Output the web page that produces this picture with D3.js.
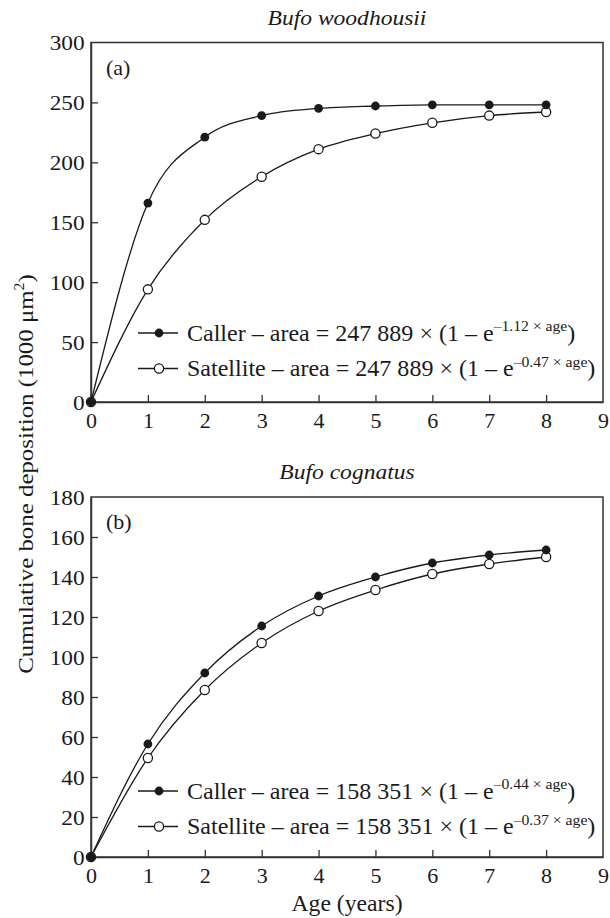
<!DOCTYPE html>
<html><head><meta charset="utf-8">
<script src="https://cdn.jsdelivr.net/npm/d3@7"></script>
<style>
body{margin:0;background:#fff}
text{font-family:"Liberation Serif","Times New Roman",serif;fill:#1a1a1a}
</style>
</head><body><svg id="c" width="610" height="918"></svg>
<script>
const ages=[0,1,2,3,4,5,6,7,8];
const callerA=[0,166,221,239,245,247,248,248,248];
const satelliteA=[0,94,152,188,211,224,233,239,242];
const callerB=[0,56.5,92,115.5,130.5,140,147,151,153.5];
const satelliteB=[0,49.5,83.5,107,123,133.5,141.5,146.5,150];
const xTicks=[0,1,2,3,4,5,6,7,8,9];
const yTicksA=[0,50,100,150,200,250,300];
const yTicksB=[0,20,40,60,80,100,120,140,160,180];
const titles=["Bufo woodhousii","Bufo cognatus"];
const panelTags=["(a)","(b)"];
const legendA=[["Caller – area = 247 889 × (1 – e","–1.12 × age",")"],["Satellite – area = 247 889 × (1 – e","–0.47 × age",")"]];
const legendB=[["Caller – area = 158 351 × (1 – e","–0.44 × age",")"],["Satellite – area = 158 351 × (1 – e","–0.37 × age",")"]];
const yLabelParts=["Cumulative bone deposition (1000 μm","2",")"];
const xLabel="Age (years)";

const svg=d3.select("#c");
const L=91,R=603;
const x=d3.scaleLinear().domain([0,9]).range([L,R]);
const INK="#1a1a1a";

function panel(top,bottom,yMax,yTicks,caller,sat,title,tag,legend,legY){
  const y=d3.scaleLinear().domain([0,yMax]).range([bottom,top]);
  const g=svg.append("g");
  g.append("rect").attr("x",L).attr("y",top).attr("width",R-L).attr("height",bottom-top)
    .attr("fill","none").attr("stroke","#333").attr("stroke-width",1.5);
  const ya=g.append("g").attr("transform",`translate(${L},0)`)
    .call(d3.axisLeft(y).tickValues(yTicks).tickSizeInner(-7).tickSizeOuter(0).tickPadding(6).tickFormat(d3.format("d")));
  const xa=g.append("g").attr("transform",`translate(0,${bottom})`)
    .call(d3.axisBottom(x).tickValues(xTicks).tickSizeInner(-7).tickSizeOuter(0).tickPadding(10).tickFormat(d3.format("d")));
  [ya,xa].forEach(a=>{
    a.select(".domain").attr("stroke","#333").attr("stroke-width",1.5);
    a.selectAll(".tick line").attr("stroke","#333").attr("stroke-width",1.3);
    a.selectAll(".tick text").attr("font-family","Liberation Serif").attr("font-size",22).attr("fill",INK);
  });
  ya.selectAll(".tick text").attr("transform","scale(1.06,1)");
  xa.selectAll(".tick").filter(d=>d===0||d===9).select("line").remove();
  ya.selectAll(".tick").filter(d=>d===0||d===yMax).select("line").remove();
  g.append("text").attr("transform",`translate(${(L+R)/2},${top-18}) scale(1.07,1)`).attr("text-anchor","middle")
    .attr("font-style","italic").attr("font-size",22).text(title);
  g.append("text").attr("x",106).attr("y",top+32).attr("font-size",22).text(tag);
  const line=d3.line().x((d,i)=>x(ages[i])).y(d=>y(d)).curve(d3.curveMonotoneX);
  [sat,caller].forEach(s=>{
    g.append("path").datum(s).attr("d",line).attr("fill","none").attr("stroke",INK).attr("stroke-width",1.3);
  });
  g.selectAll(".ps").data(sat).join("circle").attr("cx",(d,i)=>x(ages[i])).attr("cy",d=>y(d))
    .attr("r",4.6).attr("fill","#fff").attr("stroke",INK).attr("stroke-width",1.3);
  g.selectAll(".pc").data(caller).join("circle").attr("cx",(d,i)=>x(ages[i])).attr("cy",d=>y(d))
    .attr("r",4.4).attr("fill",INK);
  legend.forEach((parts,i)=>{
    const cy=legY+i*35.5;
    g.append("line").attr("x1",138).attr("x2",178).attr("y1",cy).attr("y2",cy).attr("stroke",INK).attr("stroke-width",1.3);
    g.append("circle").attr("cx",159).attr("cy",cy).attr("r",i===0?4.4:4.6)
      .attr("fill",i===0?INK:"#fff").attr("stroke",INK).attr("stroke-width",i===0?0:1.3);
    const t=g.append("text").attr("transform",`translate(187,${cy+7.5}) scale(1.045,1)`).attr("font-size",23);
    t.append("tspan").text(parts[0]);
    t.append("tspan").attr("font-size",15).attr("dy",-9.5).text(parts[1]);
    t.append("tspan").attr("dy",9.5).text(parts[2]);
  });
}
panel(42.5,402,300,yTicksA,callerA,satelliteA,titles[0],panelTags[0],legendA,333);
panel(497,857,180,yTicksB,callerB,satelliteB,titles[1],panelTags[1],legendB,791);

const yl=svg.append("text").attr("transform","translate(33,474) rotate(-90) scale(1.13,1)").attr("text-anchor","middle").attr("font-size",22);
yl.append("tspan").text(yLabelParts[0]);
yl.append("tspan").attr("font-size",14).attr("dy",-9).text(yLabelParts[1]);
yl.append("tspan").attr("dy",9).text(yLabelParts[2]);
svg.append("text").attr("transform",`translate(${(L+R)/2},911) scale(1.03,1)`).attr("text-anchor","middle").attr("font-size",23).text(xLabel);
</script></body></html>
